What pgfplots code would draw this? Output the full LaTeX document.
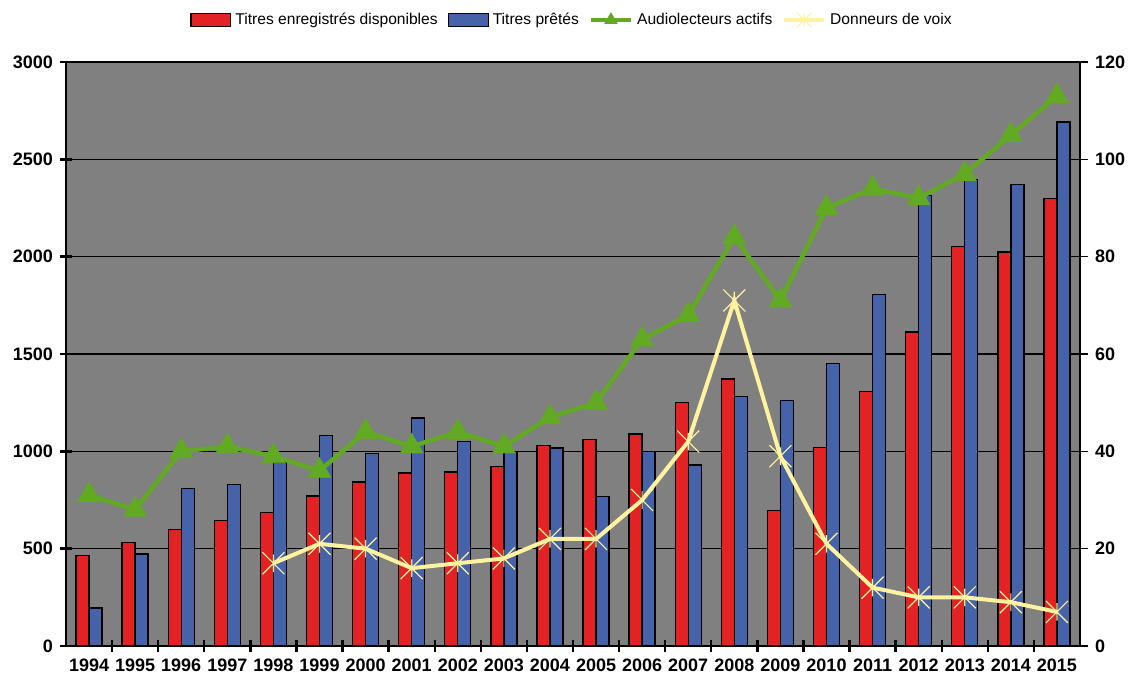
\documentclass[border=0pt]{standalone}
\usepackage{fontspec}
\setmainfont{Liberation Sans}
\usepackage{pgfplots}
\usepackage{pgfplotstable}
\pgfplotsset{compat=1.18}

\definecolor{barred}{RGB}{227,35,35}
\definecolor{barblue}{RGB}{70,98,168}
\definecolor{lgreen}{RGB}{99,170,35}
\definecolor{lyellow}{RGB}{255,243,160}
\definecolor{plotgray}{RGB}{128,128,128}

% Excel-like star: an X with a short vertical stroke
\pgfdeclareplotmark{xstar}{%
  \pgfpathmoveto{\pgfqpoint{-\pgfplotmarksize}{-\pgfplotmarksize}}%
  \pgfpathlineto{\pgfqpoint{\pgfplotmarksize}{\pgfplotmarksize}}%
  \pgfpathmoveto{\pgfqpoint{-\pgfplotmarksize}{\pgfplotmarksize}}%
  \pgfpathlineto{\pgfqpoint{\pgfplotmarksize}{-\pgfplotmarksize}}%
  \pgfpathmoveto{\pgfqpoint{0pt}{0.8\pgfplotmarksize}}%
  \pgfpathlineto{\pgfqpoint{0pt}{-0.8\pgfplotmarksize}}%
  \pgfusepathqstroke}

\pgfplotsset{
  boxlegend/.style={legend image code/.code={\draw[##1] (0cm,-0.12cm) rectangle (0.7cm,0.12cm);}},
  linelegend/.style={legend image code/.code={%
      \draw[##1, mark=none] (0cm,0cm) -- (0.7cm,0cm);
      \draw[##1, mark size=3.5pt] plot coordinates {(0.35cm,0cm)};}},
}

\pgfplotstableread{
idx year titres prets lecteurs donneurs
0  1994 465  195  31  nan
1  1995 532  472  28  nan
2  1996 597  808  40  nan
3  1997 645  830  41  nan
4  1998 687  943  39  17
5  1999 770  1080 36  21
6  2000 843  990  44  20
7  2001 888  1172 41  16
8  2002 893  1052 44  17
9  2003 923  1000 41  18
10 2004 1030 1018 47  22
11 2005 1060 768  50  22
12 2006 1090 1000 63  30
13 2007 1252 930  68  42
14 2008 1372 1282 84  71
15 2009 695  1262 71  39
16 2010 1020 1451 90  21
17 2011 1308 1806 94  12
18 2012 1614 2313 92  10
19 2013 2053 2396 97  10
20 2014 2023 2372 105 9
21 2015 2300 2692 113 7
}\data

\begin{document}
\begin{tikzpicture}
\path[use as bounding box] (-33pt,-18pt) rectangle (535pt,323pt);
\begin{axis}[
    scale only axis,
    width=507pt, height=292pt,
    xmin=-0.5, xmax=21.5,
    ymin=0, ymax=3000,
    ybar=0pt, bar width=6.5pt,
    axis x line*=bottom,
    axis y line*=left,
    axis line style={line width=1.4pt},
    axis background/.style={fill=plotgray},
    ytick={0,500,...,3000},
    ymajorgrids,
    major grid style={black, line width=0.6pt},
    xtick={0,...,21},
    xticklabels={1994,1995,1996,1997,1998,1999,2000,2001,2002,2003,2004,2005,2006,2007,2008,2009,2010,2011,2012,2013,2014,2015},
    xtick style={draw=none},
    extra x ticks={0.5,1.5,...,20.5},
    extra x tick labels={},
    extra x tick style={xtick style={draw=black, line width=1.2pt}},
    tick align=center,
    major tick length=6pt,
    ytick style={draw=black, line width=1.2pt},
    tick label style={font=\bfseries\fontsize{9}{10}\selectfont},
    /pgf/number format/1000 sep={},
    /pgf/number format/assume math mode=true,
]
\addplot[fill=barred, draw=black, line width=0.7pt] table[x=idx, y=titres] {\data};
\addplot[fill=barblue, draw=black, line width=0.7pt] table[x=idx, y=prets] {\data};
\end{axis}
\begin{axis}[
    scale only axis,
    width=507pt, height=292pt,
    xmin=-0.5, xmax=21.5,
    ymin=0, ymax=120,
    axis x line=none,
    axis y line*=right,
    axis line style={line width=0.6pt},
    ytick={0,20,...,120},
    tick align=outside,
    major tick length=4pt,
    ytick style={draw=black, line width=0.6pt},
    tick label style={font=\bfseries\fontsize{9}{10}\selectfont},
    /pgf/number format/assume math mode=true,
    legend columns=4,
    legend style={at={(0.5,1.072)}, anchor=center, draw=none, fill=none,
        font=\fontsize{7.8}{9}\selectfont,
        /tikz/every even column/.append style={column sep=3pt}},
]
\addlegendimage{fill=barred, draw=black, line width=0.6pt, boxlegend}
\addlegendimage{fill=barblue, draw=black, line width=0.6pt, boxlegend}
\addplot[lgreen, line width=2.2pt, mark=triangle*, mark size=6.5pt,
    mark options={solid, fill=lgreen, draw=lgreen, line width=0.4pt}, linelegend]
    table[x=idx, y=lecteurs] {\data};
\addplot[lyellow, line width=2pt, mark=xstar, mark size=5.5pt,
    mark options={solid, draw=lyellow, line width=0.6pt}, linelegend]
    table[x=idx, y=donneurs] {\data};
\legend{Titres enregistrés disponibles, Titres prêtés, Audiolecteurs actifs, Donneurs de voix}
\end{axis}
\end{tikzpicture}
\end{document}
